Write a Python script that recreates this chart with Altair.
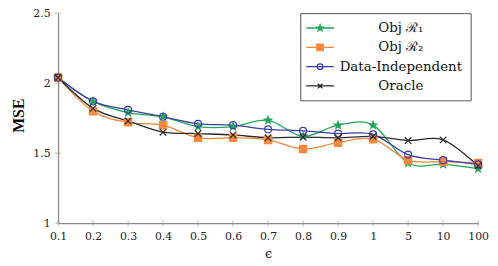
import math
import altair as alt
import pandas as pd

# ---- data ----
eps = ["0.1", "0.2", "0.3", "0.4", "0.5", "0.6", "0.7", "0.8", "0.9", "1", "5", "10", "100"]
obj_r1 = [2.04, 1.87, 1.79, 1.76, 1.69, 1.69, 1.735, 1.62, 1.70, 1.70, 1.43, 1.42, 1.39]
obj_r2 = [2.04, 1.80, 1.72, 1.70, 1.61, 1.61, 1.595, 1.53, 1.575, 1.60, 1.45, 1.44, 1.43]
data_ind = [2.04, 1.87, 1.81, 1.76, 1.71, 1.70, 1.67, 1.66, 1.64, 1.635, 1.49, 1.45, 1.42]
oracle = [2.04, 1.82, 1.73, 1.65, 1.64, 1.63, 1.61, 1.615, 1.61, 1.62, 1.59, 1.595, 1.41]
series_names = ["Obj \u211b\u2081", "Obj \u211b\u2082", "Data-Independent", "Oracle"]
y_ticks = [1, 1.5, 2, 2.5]

colors = ["#22a65a", "#f6893d", "#3c3caa", "#2a2a2a"]

rows = []
for name, vals in zip(series_names, [obj_r1, obj_r2, data_ind, oracle]):
    for e, v in zip(eps, vals):
        rows.append({"eps": e, "mse": v, "series": name})
df = pd.DataFrame(rows)
df_xt = pd.DataFrame({"eps": eps})
df_yt = pd.DataFrame({"v": y_ticks, "eps": [eps[0]] * len(y_ticks)})


# ---- marker shapes (unit square paths) ----
def star_path(r_out, r_in):
    pts = []
    for k in range(10):
        r = r_out if k % 2 == 0 else r_in
        a = math.radians(-90 + 36 * k)
        pts.append(f"{r*math.cos(a):.3f},{r*math.sin(a):.3f}")
    return "M" + "L".join(pts) + "Z"


def square_path(h):
    return f"M{-h},{-h}H{h}V{h}H{-h}Z"


def ring_path(r):
    # zero-area circle (forward + backward) so only the stroke shows
    return (f"M{r},0A{r},{r} 0 1,1 {-r},0A{r},{r} 0 1,1 {r},0"
            f"M{r},0A{r},{r} 0 1,0 {-r},0A{r},{r} 0 1,0 {r},0")


def x_path(h):
    return f"M{-h},{-h}L{h},{h}M{-h},{h}L{h},{-h}"


chart_shapes = [star_path(1, 0.42), square_path(1), "circle", x_path(1)]
chart_sizes = [60, 44, 42, 26]
chart_fills = [colors[0], colors[1], "transparent", "transparent"]

line_seg = "M-2.33,0H2.33"
legend_shapes = [
    line_seg + star_path(0.55, 0.23),
    line_seg + square_path(0.55),
    line_seg + ring_path(0.47),
    line_seg + x_path(0.38),
]

FONT = "DejaVu Serif"
TFONT = "Liberation Serif"
xscale = alt.Scale(type="point", domain=eps, padding=0)
yscale = alt.Scale(domain=[1, 2.5], nice=False, zero=False)

x_axis = alt.Axis(
    title="\u03f5", labelAngle=0, ticks=False, grid=False,
    domainColor="#8a8a8a", domainWidth=1.3,
    labelFont=FONT, labelFontSize=11, labelColor="#222", labelPadding=7,
    titleFont=FONT, titleFontSize=13, titleFontWeight="normal", titleColor="#222",
    titleX=212, titleY=35, titleBaseline="alphabetic",
)
y_axis = alt.Axis(
    values=y_ticks, format=".1~f", ticks=False, grid=False,
    domainColor="#8a8a8a", domainWidth=1.3,
    labelFont=FONT, labelFontSize=11, labelColor="#222", labelPadding=8,
    title="MSE", titleFont=TFONT, titleFontSize=16, titleFontWeight="bold",
    titleColor="#111", titleX=-35, titleY=103, titleBaseline="alphabetic",
)

base = alt.Chart(df)

xticks = alt.Chart(df_xt).mark_tick(orient="vertical", size=6, thickness=1, color="#9a9a9a").encode(
    x=alt.X("eps:O", scale=xscale, axis=x_axis), y=alt.datum(1, axis=y_axis, scale=yscale)
)
yticks = alt.Chart(df_yt).mark_tick(orient="horizontal", size=6, thickness=1, color="#9a9a9a").encode(
    x=alt.X("eps:O", scale=xscale, axis=x_axis), y=alt.Y("v:Q", scale=yscale, axis=y_axis)
)

lines = base.mark_line(interpolate="cardinal", strokeWidth=1.3).encode(
    x=alt.X("eps:O", scale=xscale, axis=x_axis),
    y=alt.Y("mse:Q", scale=yscale, axis=y_axis),
    color=alt.Color("series:N", scale=alt.Scale(domain=series_names, range=colors), legend=None),
)

points = base.mark_point(strokeWidth=1.2, opacity=1).encode(
    x=alt.X("eps:O", scale=xscale, axis=x_axis), y=alt.Y("mse:Q", scale=yscale, axis=y_axis),
    shape=alt.Shape("series:N", scale=alt.Scale(domain=series_names, range=chart_shapes), legend=None),
    fill=alt.Fill("series:N", scale=alt.Scale(domain=series_names, range=chart_fills), legend=None),
    stroke=alt.Stroke("series:N", scale=alt.Scale(domain=series_names, range=colors), legend=None),
    size=alt.Size("series:N", scale=alt.Scale(domain=series_names, range=chart_sizes), legend=None),
)

leg = alt.Legend(
    title=None, orient="none", legendX=244.5, legendY=0, direction="vertical",
    strokeColor="#555", fillColor="white", padding=8, cornerRadius=0,
    symbolSize=144, symbolStrokeWidth=1.3, symbolOffset=5, symbolOpacity=1,
    labelFont=FONT, labelFontSize=13.5, labelColor="#111", labelAlign="center",
    labelOffset=74.5, labelLimit=0, rowPadding=5.5,
)

legend_layer = base.transform_filter(alt.datum.eps == "0.1").mark_point(filled=True, opacity=0).encode(
    x=alt.X("eps:O", scale=xscale, axis=x_axis), y=alt.Y("mse:Q", scale=yscale, axis=y_axis),
    shape=alt.Shape("series:N", scale=alt.Scale(domain=series_names, range=legend_shapes), legend=leg),
    fill=alt.Fill("series:N", scale=alt.Scale(domain=series_names, range=colors), legend=leg),
    stroke=alt.Stroke("series:N", scale=alt.Scale(domain=series_names, range=colors), legend=leg),
)

chart = (
    alt.layer(xticks, yticks, lines, points, legend_layer)
    .resolve_scale(shape="independent", fill="independent", stroke="independent", size="independent")
    .properties(
        width=424, height=212,
        autosize=alt.AutoSizeParams(type="none"),
        padding={"left": 50.5, "top": 4, "right": 12, "bottom": 40},
    )
    .configure_view(strokeWidth=0)
    .configure_axis(labelFont=FONT, titleFont=FONT)
    .configure_legend(labelFont=FONT, labelFontSize=13.5)
)

chart.save("out.html", embed_options={"renderer": "svg", "actions": False})
